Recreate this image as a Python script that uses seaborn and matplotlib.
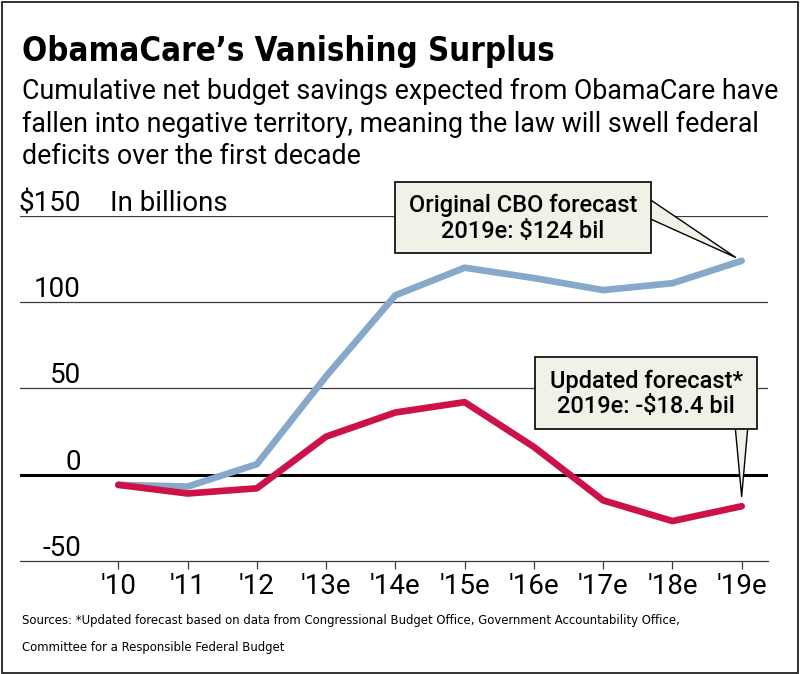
import matplotlib
matplotlib.use("Agg")
import matplotlib.pyplot as plt
import matplotlib.transforms as mtransforms
from matplotlib import font_manager as fm
from matplotlib.patches import Rectangle
import pandas as pd
import seaborn as sns

# === Data ($ billions, cumulative) ===
years = ["'10", "'11", "'12", "'13e", "'14e", "'15e", "'16e", "'17e", "'18e", "'19e"]
original_cbo = [-6, -7, 6, 57, 104, 120, 114, 107, 111, 124]
updated_forecast = [-6, -11, -8, 22, 36, 42, 16, -15, -27, -18.4]
y_ticks = [-50, 0, 50, 100, 150]
y_labels = ["-50", "0", "50", "100", "$150"]

BLUE = "#86a8ca"
RED = "#cc1249"
BOX = "#f2f1e8"
GRID = "#3a3a3a"
W, H = 800, 674

df = pd.DataFrame({"x": range(len(years)), "Original": original_cbo, "Updated": updated_forecast})
long_df = df.melt(id_vars="x", var_name="series", value_name="value")

sns.set_theme(style="white")
plt.rcParams["font.family"] = ["Roboto", "DejaVu Sans"]
plt.rcParams["text.color"] = "black"
plt.rcParams["xtick.color"] = "black"
plt.rcParams["xtick.labelcolor"] = "black"


def weight_num(w):
    return w if isinstance(w, int) else fm.weight_dict.get(w, 400)


def condensed_face(weight):
    # look for any installed narrow / condensed face, else fall back to Roboto
    faces = [f for f in fm.fontManager.ttflist
             if f.style == "normal" and (f.stretch in ("condensed", "semi-condensed", "extra-condensed")
                                         or "Narrow" in f.name or "Condensed" in f.name)]
    if not faces:
        return fm.FontProperties(family="Roboto", weight=weight)
    best = min(faces, key=lambda f: abs(weight_num(f.weight) - weight))
    return fm.FontProperties(fname=best.fname)


TITLE_FONT = condensed_face(700)
NOTE_FONT = condensed_face(400)

fig = plt.figure(figsize=(W / 100, H / 100), dpi=100)
fig.patch.set_facecolor("white")


def fy(y):
    # pixel row from the top -> figure fraction
    return 1 - y / H


def fit(txt, width):
    r = fig.canvas.get_renderer()
    w = txt.get_window_extent(r).width
    txt.set_fontsize(txt.get_fontsize() * width / w)


# === Axes ===
ax = fig.add_axes([20 / W, fy(560.7), 748 / W, (560.7 - 216) / H])
sns.lineplot(data=long_df, x="x", y="value", hue="series", hue_order=["Original", "Updated"],
             palette=[BLUE, RED], lw=4.8, solid_capstyle="round", legend=False, ax=ax, zorder=3)
ax.set_xlim(-1.42, 9.38)
ax.set_ylim(-50, 150)

for v in y_ticks[2:]:
    ax.axhline(v, color=GRID, lw=0.9, zorder=1)
ax.axhline(0, color="black", lw=2.2, zorder=2)

for s in ["top", "left", "right"]:
    ax.spines[s].set_visible(False)
ax.spines["bottom"].set_color(GRID)
ax.spines["bottom"].set_linewidth(0.9)

ax.set_xticks(range(len(years)))
ax.set_xticklabels(years, fontsize=20, color="black")
ax.tick_params(axis="x", bottom=True, length=6, width=0.9, color=GRID, pad=3)
ax.set_yticks([])
ax.set_xlabel("")
ax.set_ylabel("")

ytrans = mtransforms.offset_copy(mtransforms.blended_transform_factory(ax.transAxes, ax.transData),
                                 fig=fig, y=5, units="dots")
for v, lab in zip(y_ticks, y_labels):
    ax.text(61 / 748, v, lab, transform=ytrans, ha="right", va="baseline", fontsize=20)
ax.text(90 / 748, 150, "In billions", transform=ytrans, ha="left", va="baseline", fontsize=20)

# === Callouts ===
ax.annotate("", xy=(9, original_cbo[-1]), xycoords="data", xytext=(640, H - 204),
            textcoords="figure pixels", fontsize=10,
            arrowprops=dict(arrowstyle="wedge,tail_width=1.35", fc=BOX, ec="black", lw=1,
                            shrinkA=0, shrinkB=5))
ax.annotate("", xy=(9, updated_forecast[-1]), xycoords="data", xytext=(741.5, H - 420),
            textcoords="figure pixels", fontsize=10,
            arrowprops=dict(arrowstyle="wedge,tail_width=1.0", fc=BOX, ec="black", lw=1,
                            shrinkA=0, shrinkB=7))

boxes = [
    ((395, 182, 256, 71), "Original CBO forecast\n2019e: $124 bil", 229),
    ((535, 357, 222, 72), "Updated forecast*\n2019e: -$18.4 bil", 194),
]
for (bx, by, bw, bh), label, tw in boxes:
    fig.patches.append(Rectangle((bx / W, fy(by + bh)), bw / W, bh / H, transform=fig.transFigure,
                                 fc=BOX, ec="black", lw=1.2, zorder=5))
    t = fig.text((bx + bw / 2) / W, fy(by + bh / 2 + 1), label, ha="center", va="center",
                 fontsize=20, fontweight="medium", linespacing=1.15, zorder=6)
    first = fig.text(0, 0, label.split("\n")[0], fontsize=20, fontweight="medium")
    fit(first, tw)
    t.set_fontsize(first.get_fontsize())
    first.remove()

# === Titles ===
title = fig.text(22 / W, fy(61), "ObamaCare\u2019s Vanishing Surplus", fontproperties=TITLE_FONT,
                 fontsize=34, va="baseline")
title.set_fontweight("bold")
fit(title, 533)

sub_lines = ["Cumulative net budget savings expected from ObamaCare have",
             "fallen into negative territory, meaning the law will swell federal",
             "deficits over the first decade"]
subs = []
for i, line in enumerate(sub_lines):
    subs.append(fig.text(22 / W, fy(99 + 32.5 * i), line, fontsize=20, va="baseline"))
fit(subs[0], 753)
for s in subs[1:]:
    s.set_fontsize(subs[0].get_fontsize())

src1 = fig.text(22 / W, fy(624), "Sources: *Updated forecast based on data from Congressional Budget Office, "
                "Government Accountability Office,", fontproperties=NOTE_FONT, fontsize=12, va="baseline")
fit(src1, 661)
src2 = fig.text(22 / W, fy(651), "Committee for a Responsible Federal Budget", fontproperties=NOTE_FONT,
                va="baseline")
src2.set_fontsize(src1.get_fontsize())

# frame round the whole graphic
fig.patches.append(Rectangle((1.5 / W, 1.5 / H), (W - 3.5) / W, (H - 3.5) / H, transform=fig.transFigure,
                             fill=False, ec="#222222", lw=1.3, zorder=10))

fig.savefig("out.png", dpi=100)
